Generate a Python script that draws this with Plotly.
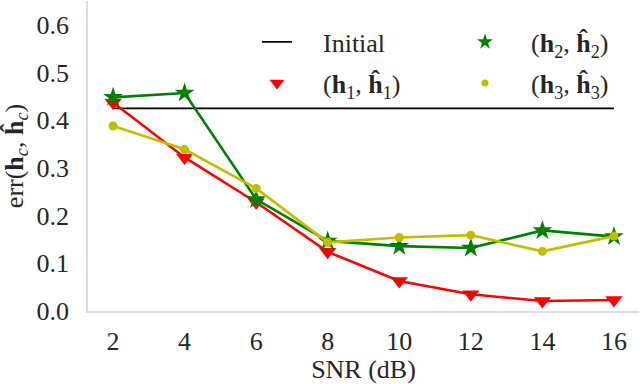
import plotly.graph_objects as go

snr = [2, 4, 6, 8, 10, 12, 14, 16]
initial = [0.425, 0.425, 0.425, 0.425, 0.425, 0.425, 0.425, 0.425]
err_h1 = [0.437, 0.322, 0.228, 0.124, 0.063, 0.035, 0.021, 0.023]
err_h2 = [0.448, 0.457, 0.234, 0.147, 0.136, 0.132, 0.169, 0.156]
err_h3 = [0.388, 0.339, 0.257, 0.144, 0.154, 0.159, 0.125, 0.157]
y_ticks = [0.0, 0.1, 0.2, 0.3, 0.4, 0.5, 0.6]

FONT = "Liberation Serif"
TXT = "#262626"
PAD = "\u00a0" * 4
RED, GREEN, YEL = "#ff0000", "#008000", "#bfbf00"

names = {
    "init": PAD + "Initial",
    "h1": PAD + "(<b>h</b><sub>1</sub>, <b>ĥ</b><sub>1</sub>)",
    "h2": PAD + "(<b>h</b><sub>2</sub>, <b>ĥ</b><sub>2</sub>)",
    "h3": PAD + "(<b>h</b><sub>3</sub>, <b>ĥ</b><sub>3</sub>)",
}

fig = go.Figure()
fig.add_trace(go.Scatter(x=snr, y=initial, mode="lines", line=dict(color="black", width=1.8),
                         name=names["init"], legend="legend"))
fig.add_trace(go.Scatter(x=snr, y=err_h1, mode="lines+markers", line=dict(color=RED, width=2.6),
                         marker=dict(symbol="triangle-down", size=15, color=RED), showlegend=False))
fig.add_trace(go.Scatter(x=snr, y=err_h2, mode="lines+markers", line=dict(color=GREEN, width=2.6),
                         marker=dict(symbol="star", size=15, color=GREEN), showlegend=False))
fig.add_trace(go.Scatter(x=snr, y=err_h3, mode="lines+markers", line=dict(color=YEL, width=2.6),
                         marker=dict(symbol="circle", size=9, color=YEL), showlegend=False))

# legend-only marker entries
fig.add_trace(go.Scatter(x=[None], y=[None], mode="markers", name=names["h2"], legend="legend2",
                         marker=dict(symbol="star", size=12, color=GREEN)))
fig.add_trace(go.Scatter(x=[None], y=[None], mode="markers", name=names["h1"], legend="legend3",
                         marker=dict(symbol="triangle-down", size=13, color=RED)))
fig.add_trace(go.Scatter(x=[None], y=[None], mode="markers", name=names["h3"], legend="legend4",
                         marker=dict(symbol="circle", size=7, color=YEL)))

font26 = dict(family=FONT, size=26, color=TXT)
leg_common = dict(bgcolor="rgba(0,0,0,0)", borderwidth=0, font=font26,
                  xanchor="left", yanchor="middle", itemsizing="trace")

PW, PH = 551, 310
def px(xp):
    return (xp - 88) / PW
def py(yp):
    return 1 - (yp - 1) / PH

fig.update_layout(
    template="none",
    width=640, height=384,
    margin=dict(l=88, r=1, t=1, b=73),
    paper_bgcolor="white", plot_bgcolor="white",
    font=font26,
    showlegend=True,
    legend=dict(x=px(257), y=py(42), **leg_common),
    legend2=dict(x=px(465), y=py(42), **leg_common),
    legend3=dict(x=px(257), y=py(83), **leg_common),
    legend4=dict(x=px(465), y=py(83), **leg_common),
    xaxis=dict(range=[1.3, 16.7], tickvals=snr, ticks="", showgrid=False, zeroline=False,
               showline=True, linecolor="#dddddd", linewidth=1.5, ticklabelstandoff=6,
               automargin=False, tickfont=font26,
               title=dict(text="SNR (dB)", standoff=12, font=font26)),
    yaxis=dict(range=[0, 0.65], tickvals=y_ticks, tickformat=".1f", ticks="", showgrid=False,
               zeroline=False, showline=True, linecolor="#dddddd", linewidth=1.5,
               ticklabelstandoff=12, automargin=False, tickfont=font26,
               title=dict(text="err(<b>h</b><sub><i>c</i></sub>, <b>ĥ</b><sub><i>c</i></sub>)",
                          standoff=10, font=font26)),
)

fig.write_html("out.html", config={"displayModeBar": False},
               post_script="document.body.style.margin='0';")
